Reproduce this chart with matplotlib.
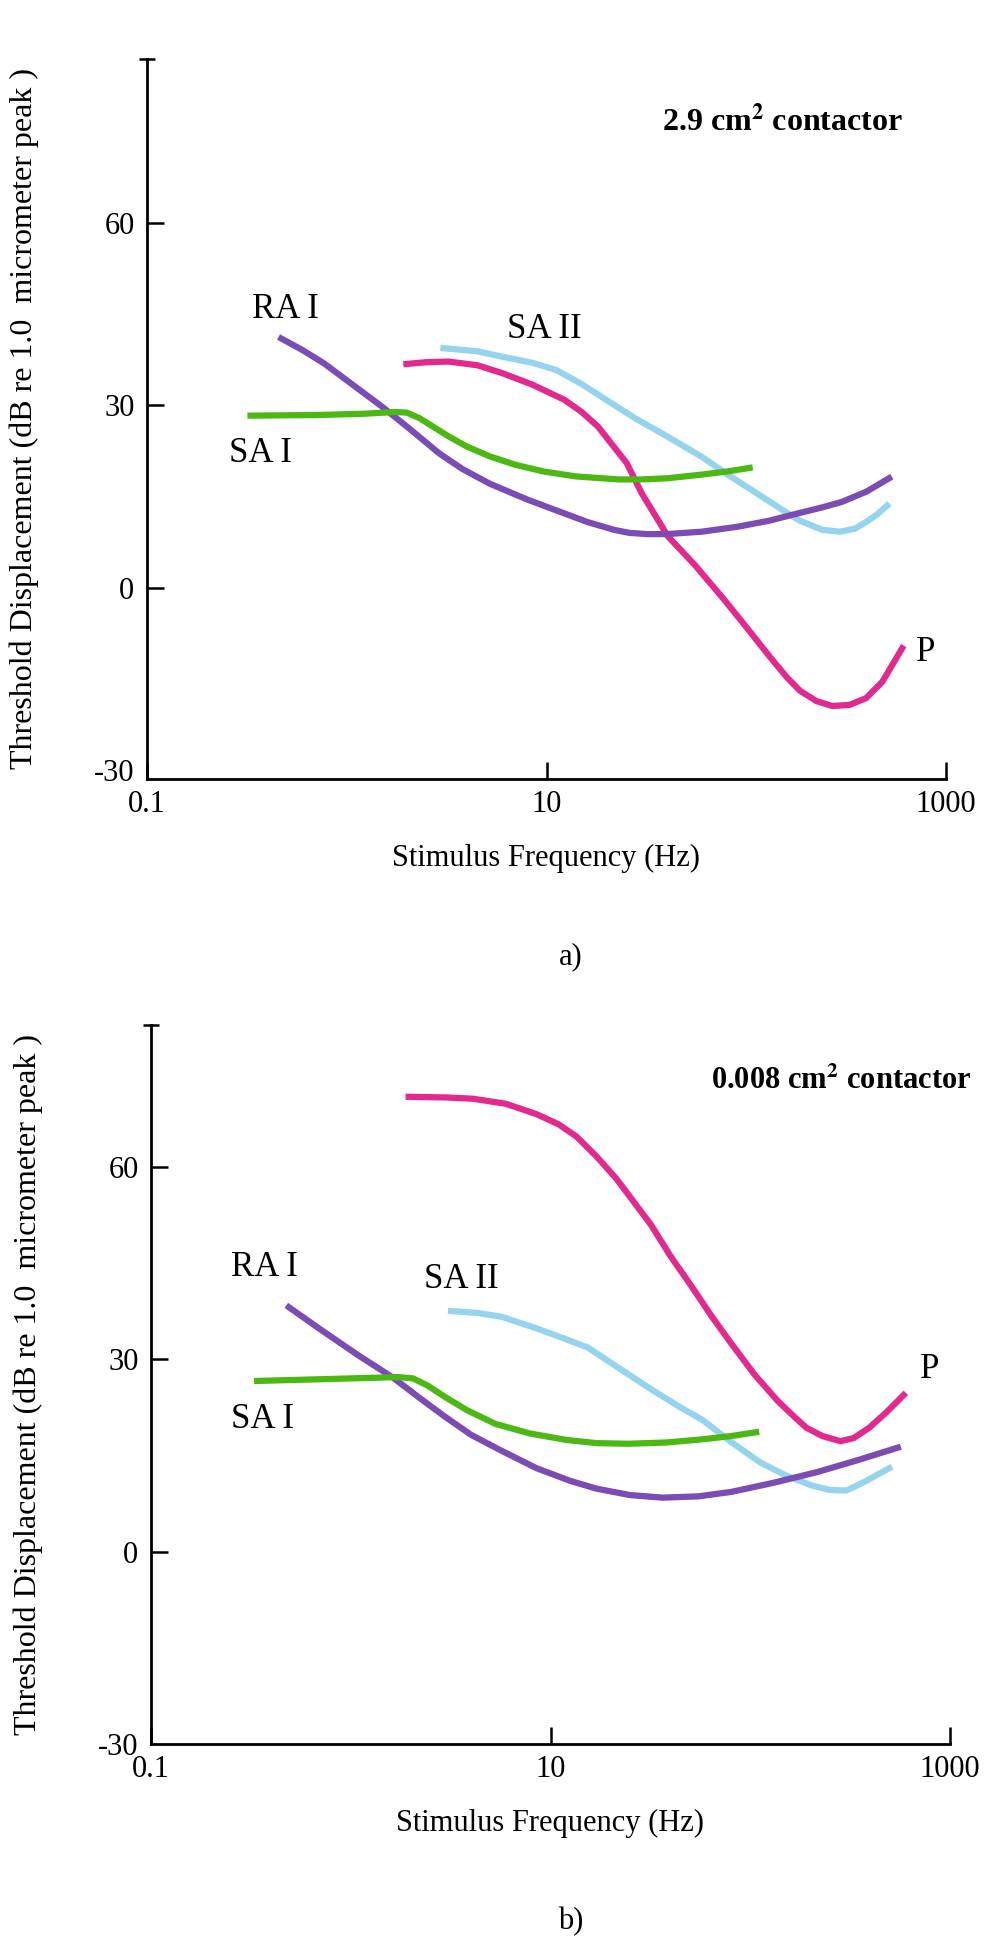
import numpy as np
import matplotlib.pyplot as plt
from matplotlib.ticker import NullFormatter

plt.rcParams['font.family'] = ['Liberation Serif', 'DejaVu Serif']
plt.rcParams['mathtext.fontset'] = 'stix'

# ---- panel a) 2.9 cm2 contactor ----
a_ra1_f = [0.47, 0.6, 0.77, 1.5, 2.0, 2.9, 3.8, 5.2, 8.0, 12.3, 16, 21.8, 26, 32,
           40, 60, 90, 130, 186, 240, 301, 400, 519]
a_ra1_db = [41.0, 39.1, 36.9, 29.8, 26.5, 22.1, 19.5, 17.1, 14.5, 12.2, 10.8, 9.5, 9.0, 8.8,
            8.8, 9.2, 10.0, 11.0, 12.3, 13.2, 14.1, 15.8, 18.0]

a_sa1_f = [0.33, 0.70, 1.2, 1.74, 2.0, 2.31, 2.7, 3.23, 4.0, 5.2, 7.0, 9.7, 14,
           22.9, 30, 40.6, 60, 80, 104]
a_sa1_db = [28.3, 28.4, 28.6, 28.9, 28.8, 27.9, 26.5, 24.9, 23.2, 21.6, 20.2, 19.1, 18.3,
            17.8, 17.8, 18.0, 18.6, 19.1, 19.7]

a_p_f = [1.99, 2.5, 3.23, 4.5, 6.0, 8.5, 12.3, 15, 18.1, 21, 25.2, 30, 40.6, 55, 77.6,
         100, 132, 160, 186, 225, 270, 330, 398, 480, 603]
a_p_db = [36.8, 37.1, 37.2, 36.6, 35.3, 33.4, 30.9, 28.9, 26.5, 23.8, 20.5, 15.5, 8.4, 3.8, -2.0,
          -6.5, -11.5, -14.8, -17.0, -18.7, -19.5, -19.3, -18.2, -15.5, -10.0]

a_sa2_f = [3.05, 4.5, 6.0, 8.5, 11.2, 15, 19.9, 28, 40.6, 60, 83.4, 126, 160, 186,
           240, 295, 350, 398, 450, 507]
a_sa2_db = [39.4, 38.9, 38.0, 37.0, 35.8, 33.5, 30.9, 27.8, 24.8, 21.5, 18.3, 14.5, 12.3, 11.0,
            9.5, 9.2, 9.7, 10.8, 12.0, 13.5]

# ---- panel b) 0.008 cm2 contactor ----
b_ra1_f = [0.49, 0.7, 1.09, 1.63, 2.2, 2.94, 4.0, 5.7, 8.5, 12.6, 17, 25, 36.4, 55,
           80.5, 130, 217, 350, 548]
b_ra1_db = [38.1, 34.7, 30.6, 27.1, 24.0, 21.1, 18.2, 15.7, 13.0, 11.0, 9.8, 8.8, 8.4, 8.6,
            9.3, 10.7, 12.4, 14.3, 16.2]

b_sa1_f = [0.34, 0.78, 1.73, 2.05, 2.42, 3.0, 3.84, 5.3, 7.9, 12, 17, 24.5, 38, 57.8, 80, 107]
b_sa1_db = [26.6, 26.9, 27.2, 27.0, 25.9, 24.0, 22.0, 19.9, 18.4, 17.4, 16.9, 16.8, 17.0, 17.5,
            18.0, 18.6]

b_p_f = [1.95, 3.0, 4.10, 6.0, 8.5, 11, 13.5, 17, 21.4, 26, 31.9, 40, 50.7, 64, 80.5,
         105, 137, 165, 191, 230, 283, 330, 394, 480, 586]
b_p_db = [70.9, 70.8, 70.6, 69.8, 68.2, 66.6, 64.7, 61.6, 58.1, 54.6, 50.9, 46.0, 41.4, 36.7, 32.4,
          27.6, 23.5, 21.1, 19.3, 18.0, 17.2, 17.7, 19.3, 21.7, 24.4]

b_sa2_f = [3.18, 4.3, 5.7, 8.5, 11.5, 15.4, 22, 31.9, 44, 57.8, 80, 112, 150, 203,
           250, 303, 380, 497]
b_sa2_db = [37.5, 37.2, 36.6, 34.8, 33.3, 31.8, 28.6, 25.3, 22.6, 20.5, 17.1, 13.9, 11.9, 10.3,
            9.6, 9.5, 11.0, 13.0]

xticks = [0.1, 10, 1000]
xtick_labels = ['0.1', '10', '1000']
yticks = [-30, 0, 30, 60]

RA_COL = '#7a4cb4'
SA1_COL = '#4cb814'
P_COL = '#e2298e'
SA2_COL = '#95d4ec'
LW = 4.5


def setup(ax, ylim):
    ax.set_xscale('log')
    ax.set_xlim(0.1, 1000)
    ax.set_ylim(*ylim)
    for s in ['top', 'right']:
        ax.spines[s].set_visible(False)
    for s in ['left', 'bottom']:
        ax.spines[s].set_linewidth(2)
    ax.set_xticks(xticks, labels=xtick_labels)
    ax.set_xticks([1000], minor=True)
    ax.xaxis.set_minor_formatter(NullFormatter())
    ax.set_yticks(yticks, labels=[str(v) for v in yticks])
    ax.set_yticks([ylim[1]], minor=True)
    ax.yaxis.set_minor_formatter(NullFormatter())
    ax.tick_params(which='major', direction='in', length=12.5, width=1.8,
                   labelsize=22)
    ax.tick_params(axis='y', which='major', pad=9)
    ax.tick_params(axis='x', which='major', pad=8)
    ax.tick_params(which='minor', direction='inout', length=11, width=1.8)
    ax.yaxis.get_major_ticks()[0].tick1line.set_visible(False)
    ax.set_xlabel('Stimulus Frequency (Hz)', fontsize=22, labelpad=18)
    ax.set_ylabel('Threshold Displacement (dB re 1.0  micrometer peak )',
                  fontsize=23)
    ax.yaxis.set_label_coords(-0.135, 0.5)


def curve(ax, f, db, col, z):
    ax.plot(f, db, color=col, lw=LW, zorder=z, solid_joinstyle='round')


fig = plt.figure(figsize=(10, 19.42), dpi=100)

# panel a
ax1 = fig.add_axes([0.147, 0.5989, 0.799, 0.3707])
setup(ax1, (-31.5, 87.0))
curve(ax1, a_sa2_f, a_sa2_db, SA2_COL, 2)
curve(ax1, a_p_f, a_p_db, P_COL, 3)
curve(ax1, a_ra1_f, a_ra1_db, RA_COL, 4)
curve(ax1, a_sa1_f, a_sa1_db, SA1_COL, 5)
ax1.text(0.334, 44.4, 'RA I', fontsize=25)
ax1.text(6.31, 41.1, 'SA II', fontsize=25)
ax1.text(0.257, 20.6, 'SA I', fontsize=25)
ax1.text(708, -12.1, 'P', fontsize=25)
ax1.text(0.645, 0.9, r'2.9 cm$^{\mathbf{2}}$ contactor', transform=ax1.transAxes,
         fontsize=23, fontweight='bold')

# panel b
ax2 = fig.add_axes([0.151, 0.102, 0.799, 0.3702])
setup(ax2, (-30, 82.1))
curve(ax2, b_sa2_f, b_sa2_db, SA2_COL, 2)
curve(ax2, b_p_f, b_p_db, P_COL, 3)
curve(ax2, b_ra1_f, b_ra1_db, RA_COL, 4)
curve(ax2, b_sa1_f, b_sa1_db, SA1_COL, 5)
ax2.text(0.251, 42.9, 'RA I', fontsize=25)
ax2.text(2.33, 41.1, 'SA II', fontsize=25)
ax2.text(0.251, 19.3, 'SA I', fontsize=25)
ax2.text(708, 27.1, 'P', fontsize=25)
ax2.text(0.701, 0.911, r'0.008 cm$^{\mathbf{2}}$ contactor', transform=ax2.transAxes,
         fontsize=22, fontweight='bold')

fig.text(0.571, 1 - 957 / 1942, 'a)', fontsize=22, ha='center', va='center')
fig.text(0.571, 1 - 1922 / 1942, 'b)', fontsize=22, ha='center', va='center')

fig.savefig('out.png', dpi=100)
